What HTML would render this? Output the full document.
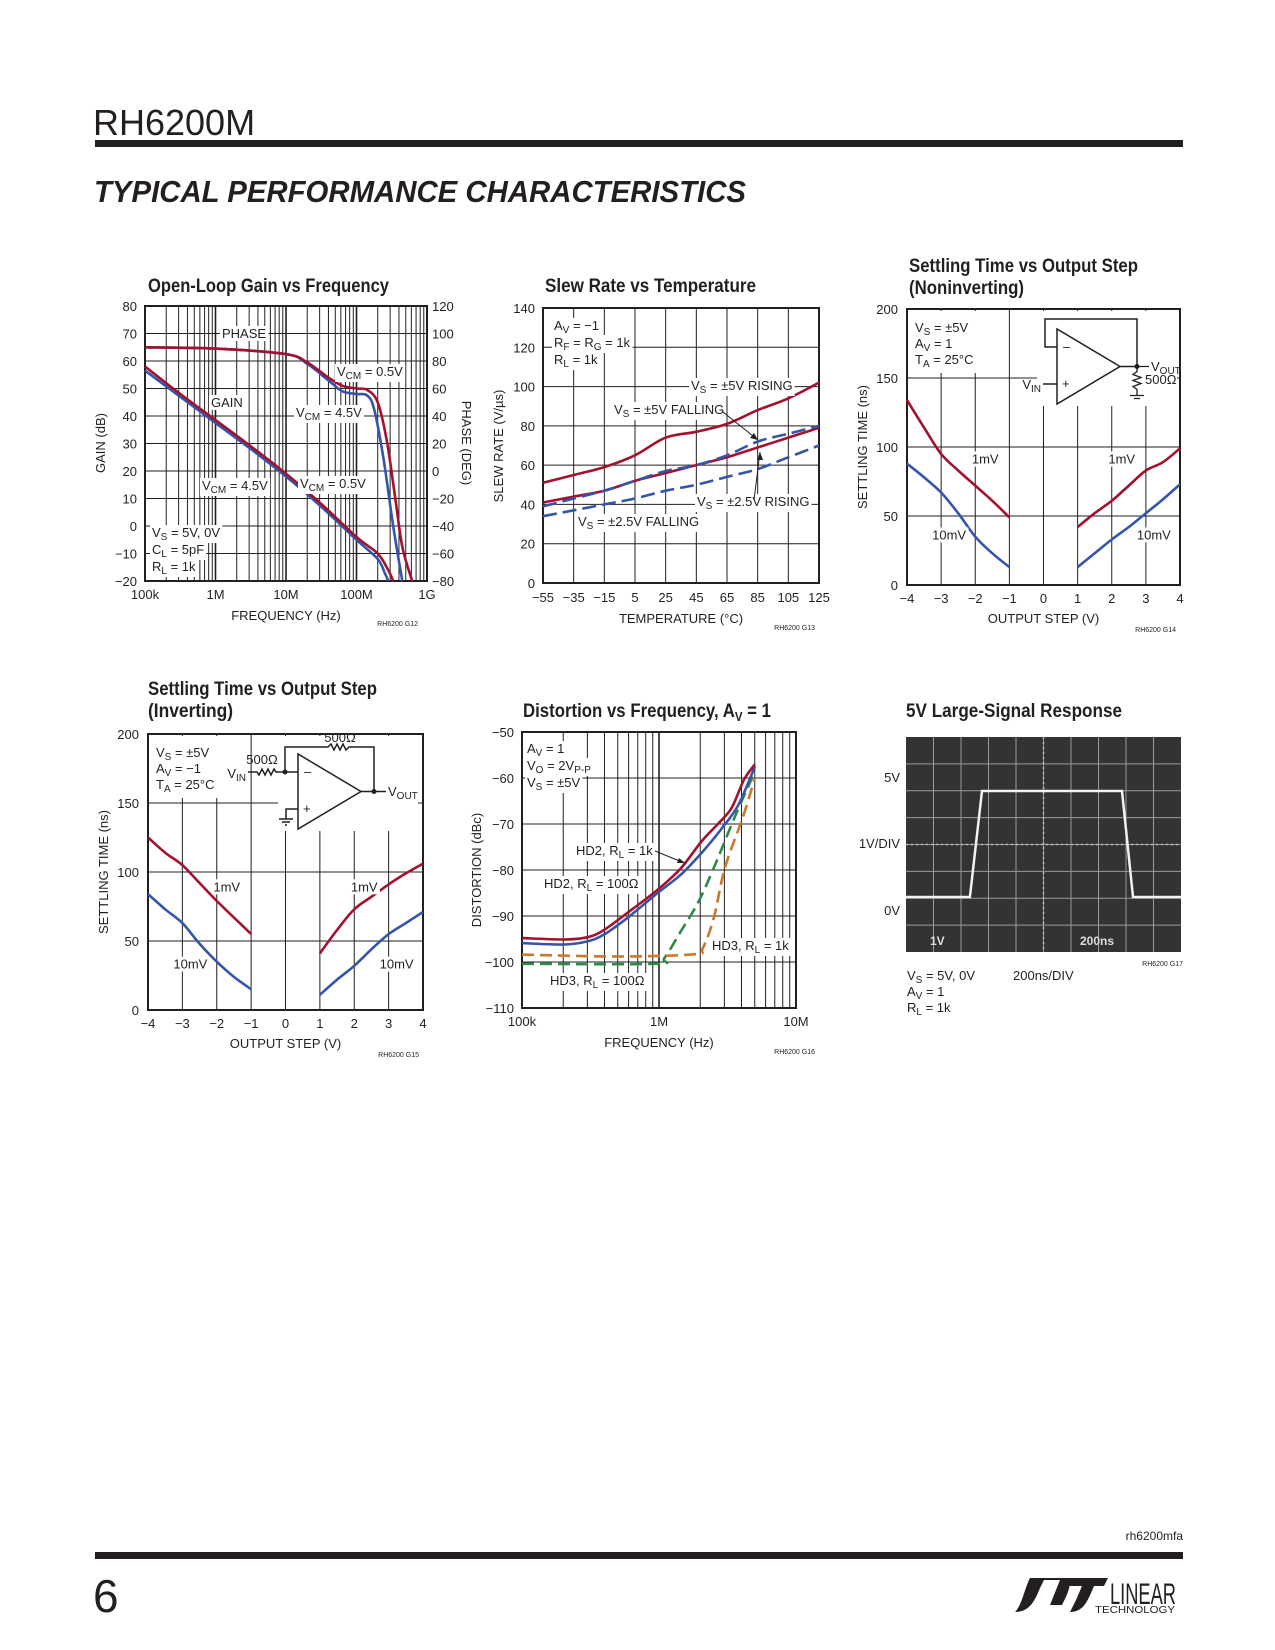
<!DOCTYPE html>
<html><head><meta charset="utf-8">
<style>
html,body{margin:0;padding:0;background:#fff}
svg{display:block}
text{font-family:"Liberation Sans Narrow","Liberation Sans",sans-serif;fill:#231f20}
.t{font-size:13px}
.ti{font-size:19px;font-weight:bold}
.g{font-size:7px}
</style></head>
<body>
<svg id="page" width="1275" height="1650" viewBox="0 0 1275 1650" xmlns="http://www.w3.org/2000/svg">
<text x="93" y="135" style="font-family:'Liberation Sans',sans-serif;font-size:36px;font-weight:300" fill="#231f20">RH6200M</text>
<rect x="95" y="140" width="1088" height="7" fill="#231f20"/>
<text x="94" y="202" textLength="652" lengthAdjust="spacingAndGlyphs" style="font-family:'Liberation Sans',sans-serif;font-size:31px;font-weight:bold;font-style:italic">TYPICAL PERFORMANCE CHARACTERISTICS</text>
<g id="charts"></g>
<rect x="95" y="1552" width="1088" height="7" fill="#231f20"/>
<text x="1183" y="1540" text-anchor="end" style="font-family:'Liberation Sans',sans-serif;font-size:12px">rh6200mfa</text>
<text x="93" y="1612" style="font-family:'Liberation Sans',sans-serif;font-size:46px;font-weight:300">6</text>
<g>
<path d="M1015 1612 C1030 1612 1035 1600 1040 1588 L1044 1580 L1060 1580 L1050 1605 L1062 1605 C1070 1590 1072 1580 1068 1578 L1030 1578 C1024 1590 1022 1605 1015 1612Z" fill="#231f20"/>
<path d="M1066 1578 L1108 1578 L1104 1586 L1094 1586 C1088 1600 1084 1612 1070 1612 L1076 1600 L1082 1586 L1070 1586Z" fill="#231f20"/>
<text x="1110" y="1604" textLength="66" lengthAdjust="spacingAndGlyphs" style="font-family:'Liberation Sans Narrow','Liberation Sans',sans-serif;font-size:30px">LINEAR</text>
<text x="1095" y="1613" textLength="80" lengthAdjust="spacingAndGlyphs" style="font-family:'Liberation Sans',sans-serif;font-size:10px">TECHNOLOGY</text>
</g>
</svg>
<script>
// ---------- DATA ----------
// Chart 1: open-loop gain / phase (x = log10 Hz)
const olgGainRedF = [5, 5.5, 6, 6.5, 7, 7.5, 8, 8.3, 8.45, 8.52];
const olgGainRed = [58, 48, 38.5, 29, 19, 8, -4, -10, -16, -20];
const olgGainBlueF = [5, 5.5, 6, 6.5, 7, 7.5, 8, 8.3, 8.4, 8.45];
const olgGainBlue = [56.5, 47, 37.5, 28, 18, 7, -5, -12, -17, -20];
const olgPhaseRedF = [5, 6, 7, 7.3, 7.6, 7.8, 8, 8.15, 8.3, 8.43, 8.55, 8.65, 8.79];
const olgPhaseRed = [90, 89, 85, 79, 68, 62, 60, 59, 50, 22, -20, -55, -80];
const olgPhaseBlueF = [5, 6, 7, 7.3, 7.6, 7.8, 8, 8.15, 8.25, 8.38, 8.52, 8.65];
const olgPhaseBlue = [90, 89, 85, 78, 66, 58, 56, 55, 45, 10, -40, -80];
const olgGainTicks = [80, 70, 60, 50, 40, 30, 20, 10, 0, -10, -20];
const olgPhaseTicks = [120, 100, 80, 60, 40, 20, 0, -20, -40, -60, -80];
const olgFreqTicks = ["100k", "1M", "10M", "100M", "1G"];
// Chart 2: slew rate vs temperature
const srTemps = [-55, -35, -15, 5, 25, 45, 65, 85, 105, 125];
const sr5Rising = [51, 55, 59, 65, 74, 77, 81, 88, 94, 102];
const sr25Rising = [41, 44, 47, 52, 56, 60, 64, 69, 74, 79];
const sr5Falling = [39, 43, 47, 52, 57, 60, 65, 72, 76, 80];
const sr25Falling = [34, 37, 40, 43, 47, 50, 54, 58, 64, 70];
const srYTicks = [0, 20, 40, 60, 80, 100, 120, 140];
const srXTicks = [-55, -35, -15, 5, 25, 45, 65, 85, 105, 125];
// Chart 3: settling noninverting
const stepNeg = [-4, -3.5, -3, -2.5, -2, -1.5, -1];
const stepPos = [1, 1.5, 2, 2.5, 3, 3.5, 4];
const niRed1mVNeg = [134, 114, 95, 83, 72, 61, 49];
const niBlue10mVNeg = [88, 78, 67, 52, 35, 23, 13];
const niRed1mVPos = [42, 52, 61, 72, 83, 89, 99];
const niBlue10mVPos = [13, 23, 33, 42, 52, 62, 73];
// Chart 4: settling inverting
const invRed1mVNeg = [125, 114, 105, 92, 79, 67, 55];
const invBlue10mVNeg = [84, 73, 63, 48, 35, 24, 15];
const invRed1mVPos = [41, 58, 73, 82, 91, 99, 106];
const invBlue10mVPos = [11, 22, 32, 44, 55, 63, 71];
const stYTicks = [0, 50, 100, 150, 200];
const stXTicks = [-4, -3, -2, -1, 0, 1, 2, 3, 4];
// Chart 5: distortion (x = log10 Hz)
const hd2_1kF = [5, 5.31, 5.48, 5.6, 5.77, 5.99, 6.16, 6.31, 6.43, 6.53, 6.62, 6.70];
const hd2_1k = [-94.8, -95.1, -94.6, -93, -89.3, -84.3, -79.6, -73.8, -70, -66.5, -60.4, -57];
const hd2_100F = [5, 5.31, 5.48, 5.6, 5.77, 5.99, 6.16, 6.31, 6.46, 6.58, 6.70];
const hd2_100 = [-95.9, -96.2, -95.5, -94, -90.4, -85, -81, -76.3, -70.9, -65.8, -57.5];
const hd3_1kF = [5, 5.72, 6.26, 6.32, 6.40, 6.48, 6.61, 6.70];
const hd3_1k = [-98.4, -98.8, -98.3, -97, -90.4, -79.6, -68.7, -60];
const hd3_100F = [5, 5.97, 6.04, 6.16, 6.29, 6.41, 6.56, 6.70];
const hd3_100 = [-100.4, -100.4, -99.1, -93.3, -86.8, -78.8, -68, -58.6];
const distYTicks = [-50, -60, -70, -80, -90, -100, -110];
const distXTicks = ["100k", "1M", "10M"];
// Chart 6: scope trace (ns, V)
const scopeT = [0, 465, 553, 1571, 1651, 2000];
const scopeV = [0, 0, 5, 5, 0, 0];

// ---------- DRAWING ----------
const NS = "http://www.w3.org/2000/svg";
const root = document.getElementById('charts');
function el(tag, attrs, parent) {
  const e = document.createElementNS(NS, tag);
  for (const k in attrs) e.setAttribute(k, attrs[k]);
  (parent || root).appendChild(e);
  return e;
}
const RED = "#a3112f", BLUE = "#3455a8", ORANGE = "#c9782d", GREEN = "#2e8b46", INK = "#231f20";
function lin(d0, d1, p0, p1) { return v => p0 + (v - d0) / (d1 - d0) * (p1 - p0); }
function txt(g, x, y, s, cls, anchor, bg) {
  const t = el('text', {x: x, y: y, class: cls || 't', 'text-anchor': anchor || 'start'}, g);
  t.innerHTML = s;
  if (bg) {
    const b = t.getBBox();
    const r = document.createElementNS(NS, 'rect');
    r.setAttribute('x', b.x - 2); r.setAttribute('y', b.y); r.setAttribute('width', b.width + 4); r.setAttribute('height', b.height);
    r.setAttribute('fill', '#fff');
    g.insertBefore(r, t);
  }
  return t;
}
function title(g, x, y, s, len) {
  const t = txt(g, x, y, s, 'ti');
  t.setAttribute('textLength', len);
  t.setAttribute('lengthAdjust', 'spacingAndGlyphs');
  return t;
}
function sub(s) { return '<tspan font-size="10" dy="3">' + s + '</tspan><tspan dy="-3"> </tspan>'; }
function smoothPath(xs, ys, X, Y) {
  const p = xs.map((v, i) => [X(v), Y(ys[i])]);
  let d = 'M' + p[0][0].toFixed(1) + ' ' + p[0][1].toFixed(1);
  for (let i = 0; i < p.length - 1; i++) {
    const p0 = p[Math.max(0, i - 1)], p1 = p[i], p2 = p[i + 1], p3 = p[Math.min(p.length - 1, i + 2)];
    const c1 = [p1[0] + (p2[0] - p0[0]) / 6, p1[1] + (p2[1] - p0[1]) / 6];
    const c2 = [p2[0] - (p3[0] - p1[0]) / 6, p2[1] - (p3[1] - p1[1]) / 6];
    d += 'C' + c1[0].toFixed(1) + ' ' + c1[1].toFixed(1) + ' ' + c2[0].toFixed(1) + ' ' + c2[1].toFixed(1) + ' ' + p2[0].toFixed(1) + ' ' + p2[1].toFixed(1);
  }
  return d;
}
function series(g, xs, ys, X, Y, color, name, dash) {
  const a = {d: smoothPath(xs, ys, X, Y), fill: 'none', stroke: color, 'stroke-width': 2.6, 'stroke-linejoin': 'round'};
  if (dash) a['stroke-dasharray'] = dash;
  const p = el('path', a, g);
  
  
  return p;
}
function grid(g, x0, y0, x1, y1, vx, hy, w) {
  vx.forEach(x => el('line', {x1: x, y1: y0, x2: x, y2: y1, stroke: INK, 'stroke-width': w || 1}, g));
  hy.forEach(y => el('line', {x1: x0, y1: y, x2: x1, y2: y, stroke: INK, 'stroke-width': w || 1}, g));
}
function box(g, x0, y0, x1, y1) { el('rect', {x: x0, y: y0, width: x1 - x0, height: y1 - y0, fill: 'none', stroke: INK, 'stroke-width': 2}, g); }
function logLines(lo, hi) { const r = []; for (let d = lo; d < hi; d++) for (let m = 1; m <= 9; m++) r.push(d + Math.log10(m)); r.push(hi); return r; }
function group(name) { const g = el('g', {});   return g; }
function rot(g, x, y, s) { const t = el('text', {x: x, y: y, class: 't', 'text-anchor': 'middle', transform: 'rotate(-90 ' + x + ' ' + y + ')'}, g); t.innerHTML = s; return t; }

// ===== Chart 1 =====
(function () {
  const g = group('open-loop-gain-chart');
  const x0 = 145, x1 = 427, y0 = 306, y1 = 581;
  const X = lin(5, 9, x0, x1), Y = lin(80, -20, y0, y1), YP = lin(120, -80, y0, y1);
  grid(g, x0, y0, x1, y1, logLines(5, 9).map(X), olgGainTicks.map(Y));
  [6, 7, 8].forEach(d => el('line', {x1: X(d), y1: y0, x2: X(d), y2: y1, stroke: INK, 'stroke-width': 1.6}, g));
  box(g, x0, y0, x1, y1);
  title(g, 148, 292, 'Open-Loop Gain vs Frequency', 241);
  olgGainTicks.forEach(v => txt(g, 137, Y(v) + 5, String(v).replace('-', '−'), 't', 'end'));
  olgPhaseTicks.forEach(v => txt(g, 432, YP(v) + 5, String(v).replace('-', '−'), 't', 'start'));
  olgFreqTicks.forEach((s, i) => txt(g, X(5 + i * 1), 599, s, 't', 'middle'));
  txt(g, 286, 620, 'FREQUENCY (Hz)', 't', 'middle');
  rot(g, 105, 443, 'GAIN (dB)');
  const t = el('text', {x: 462, y: 443, class: 't', 'text-anchor': 'middle', transform: 'rotate(90 462 443)'}, g); t.textContent = 'PHASE (DEG)';
  txt(g, 418, 626, 'RH6200 G12', 'g', 'end');
  series(g, olgPhaseBlueF, olgPhaseBlue, X, YP, BLUE, 'phase-vcm-4.5v');
  series(g, olgPhaseRedF, olgPhaseRed, X, YP, RED, 'phase-vcm-0.5v');
  series(g, olgGainBlueF, olgGainBlue, X, Y, BLUE, 'gain-vcm-4.5v');
  series(g, olgGainRedF, olgGainRed, X, Y, RED, 'gain-vcm-0.5v');
  txt(g, 222, 338, 'PHASE', 't', 'start', true);
  txt(g, 337, 376, 'V' + sub('CM') + '= 0.5V', 't', 'start', true);
  txt(g, 211, 407, 'GAIN', 't', 'start', true);
  txt(g, 296, 417, 'V' + sub('CM') + '= 4.5V', 't', 'start', true);
  txt(g, 202, 490, 'V' + sub('CM') + '= 4.5V', 't', 'start', true);
  txt(g, 300, 488, 'V' + sub('CM') + '= 0.5V', 't', 'start', true);
  txt(g, 152, 537, 'V' + sub('S') + '= 5V, 0V', 't', 'start', true);
  txt(g, 152, 554, 'C' + sub('L') + '= 5pF', 't', 'start', true);
  txt(g, 152, 571, 'R' + sub('L') + '= 1k', 't', 'start', true);
})();

// ===== Chart 2 =====
(function () {
  const g = group('slew-rate-chart');
  const x0 = 543, x1 = 819, y0 = 308, y1 = 583;
  const X = lin(-55, 125, x0, x1), Y = lin(0, 140, y1, y0);
  grid(g, x0, y0, x1, y1, srXTicks.map(X), srYTicks.map(Y));
  box(g, x0, y0, x1, y1);
  title(g, 545, 292, 'Slew Rate vs Temperature', 211);
  srYTicks.forEach(v => txt(g, 535, Y(v) + 5, String(v), 't', 'end'));
  srXTicks.forEach(v => txt(g, X(v), 602, String(v).replace('-', '−'), 't', 'middle'));
  txt(g, 681, 623, 'TEMPERATURE (°C)', 't', 'middle');
  rot(g, 503, 446, 'SLEW RATE (V/µs)');
  txt(g, 815, 630, 'RH6200 G13', 'g', 'end');
  series(g, srTemps, sr5Rising, X, Y, RED, 'vs-5v-rising');
  series(g, srTemps, sr25Rising, X, Y, RED, 'vs-2.5v-rising');
  series(g, srTemps, sr5Falling, X, Y, BLUE, 'vs-5v-falling', '14 6');
  series(g, srTemps, sr25Falling, X, Y, BLUE, 'vs-2.5v-falling', '14 6');
  txt(g, 554, 330, 'A' + sub('V') + '= −1', 't', 'start', true);
  txt(g, 554, 347, 'R' + sub('F') + '= R' + sub('G') + '= 1k', 't', 'start', true);
  txt(g, 554, 364, 'R' + sub('L') + '= 1k', 't', 'start', true);
  txt(g, 691, 390, 'V' + sub('S') + '= ±5V RISING', 't', 'start', true);
  txt(g, 614, 414, 'V' + sub('S') + '= ±5V FALLING', 't', 'start', true);
  txt(g, 697, 506, 'V' + sub('S') + '= ±2.5V RISING', 't', 'start', true);
  txt(g, 578, 526, 'V' + sub('S') + '= ±2.5V FALLING', 't', 'start', true);
  el('path', {d: 'M723 412 L758 440', stroke: INK, fill: 'none', 'stroke-width': 1}, g);
  el('path', {d: 'M758 440 l-8 -2 l4 -5z', fill: INK}, g);
  el('path', {d: 'M754 500 L760 452', stroke: INK, fill: 'none', 'stroke-width': 1}, g);
  el('path', {d: 'M760 452 l-3 8 l6 0z', fill: INK}, g);
})();

// settling-time chart helper
function settling(name, x0, x1, y0, y1, title1, title2, rn, bn, rp, bp, gcode, inv) {
  const g = group(name);
  const X = lin(-4, 4, x0, x1), Y = lin(0, 200, y1, y0);
  grid(g, x0, y0, x1, y1, stXTicks.map(X), stYTicks.map(Y));
  box(g, x0, y0, x1, y1);
  title(g, title1[0], title1[1], title1[2], title1[3]);
  title(g, title2[0], title2[1], title2[2], title2[3]);
  stYTicks.forEach(v => txt(g, x0 - 9, Y(v) + 5, String(v), 't', 'end'));
  stXTicks.forEach(v => txt(g, X(v), y1 + 18, String(v).replace('-', '−'), 't', 'middle'));
  txt(g, (x0 + x1) / 2, y1 + 38, 'OUTPUT STEP (V)', 't', 'middle');
  rot(g, x0 - 40, (y0 + y1) / 2, 'SETTLING TIME (ns)');
  txt(g, x1 - 4, y1 + 47, gcode, 'g', 'end');
  series(g, stepNeg, rn, X, Y, RED, '1mv-negative-step');
  series(g, stepNeg, bn, X, Y, BLUE, '10mv-negative-step');
  series(g, stepPos, rp, X, Y, RED, '1mv-positive-step');
  series(g, stepPos, bp, X, Y, BLUE, '10mv-positive-step');
  el('rect', {x: x0 + 2, y: y0 + 2, width: 85, height: 62, fill: '#fff'}, g);
  el('rect', {x: x0 + 130, y: y0 + 2, width: 140, height: 95, fill: '#fff'}, g);
  txt(g, x0 + 8, y0 + 23, 'V' + sub('S') + '= ±5V');
  txt(g, x0 + 8, y0 + 39, 'A' + sub('V') + (inv ? '= −1' : '= 1'));
  txt(g, x0 + 8, y0 + 55, 'T' + sub('A') + '= 25°C');
  txt(g, X(-2) + 10, Y(inv ? 86 : 88), '1mV', 't', 'middle', true);
  txt(g, X(-3) + 8, Y(inv ? 30 : 33), '10mV', 't', 'middle', true);
  txt(g, X(2) + 10, Y(inv ? 86 : 88), '1mV', 't', 'middle', true);
  txt(g, X(3) + 8, Y(inv ? 30 : 33), '10mV', 't', 'middle', true);
  const ax = x0 + 150, ay = y0 + 20;
  el('path', {d: `M${ax} ${ay} L${ax} ${ay + 75} L${ax + 63} ${ay + 37.5}Z`, fill: '#fff', stroke: INK, 'stroke-width': 1.5}, g);
  txt(g, ax + 6, ay + 22, '–');
  txt(g, ax + 5, ay + 59, '+');
  if (!inv) {
    el('path', {d: `M${ax} ${ay + 18} L${ax - 12} ${ay + 18} L${ax - 12} ${ay - 10} L${ax + 80} ${ay - 10} L${ax + 80} ${ay + 37.5} L${ax + 63} ${ay + 37.5}`, fill: 'none', stroke: INK, 'stroke-width': 1.5}, g);
    el('path', {d: `M${ax} ${ay + 55} L${ax - 14} ${ay + 55}`, stroke: INK, 'stroke-width': 1.5}, g);
    txt(g, ax - 16, ay + 60, 'V' + sub('IN'), 't', 'end');
    el('path', {d: `M${ax + 80} ${ay + 37.5} L${ax + 92} ${ay + 37.5} M${ax + 80} ${ay + 37.5} l0 5 l-4 3 l8 3 l-8 3 l8 3 l-8 3 l4 3 l0 6 m-7 0 l14 0 m-10 3 l6 0`, fill: 'none', stroke: INK, 'stroke-width': 1.3}, g);
    el('circle', {cx: ax + 80, cy: ay + 37.5, r: 2.5, fill: INK}, g);
    txt(g, ax + 94, ay + 42, 'V' + sub('OUT'), 't').setAttribute('font-size', '11');
    txt(g, ax + 88, ay + 55, '500Ω', 't').setAttribute('font-size', '11');
  } else {
    el('path', {d: `M${ax} ${ay + 18} L${ax - 13} ${ay + 18} L${ax - 13} ${ay - 7} L${ax + 30} ${ay - 7} l3 -3 l3 6 l3 -6 l3 6 l3 -6 l3 6 l3 -3 L${ax + 76} ${ay - 7} L${ax + 76} ${ay + 37.5} L${ax + 63} ${ay + 37.5} M${ax + 76} ${ay + 37.5} l12 0`, fill: 'none', stroke: INK, 'stroke-width': 1.5}, g);
    el('path', {d: `M${ax - 13} ${ay + 18} L${ax - 22} ${ay + 18} l-2 -3 l-3 6 l-3 -6 l-3 6 l-3 -6 l-3 6 l-2 -3 L${ax - 50} ${ay + 18}`, fill: 'none', stroke: INK, 'stroke-width': 1.5}, g);
    el('path', {d: `M${ax} ${ay + 55} L${ax - 12} ${ay + 55} l0 10 m-7 0 l14 0 m-11 3 l8 0 m-5 3 l2 0`, fill: 'none', stroke: INK, 'stroke-width': 1.5}, g);
    el('circle', {cx: ax - 13, cy: ay + 18, r: 2.5, fill: INK}, g);
    el('circle', {cx: ax + 76, cy: ay + 37.5, r: 2.5, fill: INK}, g);
    txt(g, ax - 52, ay + 24, 'V' + sub('IN'), 't', 'end').setAttribute('font-size', '11');
    txt(g, ax - 36, ay + 10, '500Ω', 't', 'middle').setAttribute('font-size', '11');
    txt(g, ax + 42, ay - 12, '500Ω', 't', 'middle').setAttribute('font-size', '11');
    txt(g, ax + 90, ay + 42, 'V' + sub('OUT'), 't').setAttribute('font-size', '11');
  }
}
settling('settling-noninverting-chart', 907, 1180, 309, 585, [909, 272, 'Settling Time vs Output Step', 229], [909, 294, '(Noninverting)', 115], niRed1mVNeg, niBlue10mVNeg, niRed1mVPos, niBlue10mVPos, 'RH6200 G14', false);
settling('settling-inverting-chart', 148, 423, 734, 1010, [148, 695, 'Settling Time vs Output Step', 229], [148, 717, '(Inverting)', 85], invRed1mVNeg, invBlue10mVNeg, invRed1mVPos, invBlue10mVPos, 'RH6200 G15', true);

// ===== Chart 5 =====
(function () {
  const g = group('distortion-chart');
  const x0 = 522, x1 = 796, y0 = 732, y1 = 1008;
  const X = lin(5, 7, x0, x1), Y = lin(-50, -110, y0, y1);
  grid(g, x0, y0, x1, y1, logLines(5, 7).map(X), distYTicks.map(Y));
  el('line', {x1: X(6), y1: y0, x2: X(6), y2: y1, stroke: INK, 'stroke-width': 1.6}, g);
  box(g, x0, y0, x1, y1);
  title(g, 523, 717, 'Distortion vs Frequency, A' + '<tspan font-size="13" dy="4">V</tspan><tspan dy="-4"> = 1</tspan>', 248);
  distYTicks.forEach(v => txt(g, 514, Y(v) + 5, String(v).replace('-', '−'), 't', 'end'));
  distXTicks.forEach((s, i) => txt(g, X(5 + i), 1026, s, 't', 'middle'));
  txt(g, 659, 1047, 'FREQUENCY (Hz)', 't', 'middle');
  rot(g, 481, 870, 'DISTORTION (dBc)');
  txt(g, 815, 1054, 'RH6200 G16', 'g', 'end');
  series(g, hd3_100F, hd3_100, X, Y, GREEN, 'hd3-rl-100', '12 6');
  series(g, hd3_1kF, hd3_1k, X, Y, ORANGE, 'hd3-rl-1k', '12 6');
  series(g, hd2_100F, hd2_100, X, Y, BLUE, 'hd2-rl-100');
  series(g, hd2_1kF, hd2_1k, X, Y, RED, 'hd2-rl-1k');
  txt(g, 527, 753, 'A' + sub('V') + '= 1', 't', 'start', true);
  txt(g, 527, 770, 'V' + sub('O') + '= 2V' + sub('P-P'), 't', 'start', true);
  txt(g, 527, 787, 'V' + sub('S') + '= ±5V', 't', 'start', true);
  txt(g, 576, 855, 'HD2, R' + sub('L') + '= 1k', 't', 'start', true);
  txt(g, 544, 888, 'HD2, R' + sub('L') + '= 100Ω', 't', 'start', true);
  txt(g, 712, 950, 'HD3, R' + sub('L') + '= 1k', 't', 'start', true);
  txt(g, 550, 985, 'HD3, R' + sub('L') + '= 100Ω', 't', 'start', true);
  el('path', {d: 'M655 851 L682 862', stroke: INK, 'stroke-width': 1, fill: 'none'}, g);
  el('path', {d: 'M685 863 l-8 0 l2 -5z', fill: INK}, g);
})();

// ===== Chart 6 (scope) =====
(function () {
  const g = group('large-signal-response');
  const x0 = 906, x1 = 1181, y0 = 737, y1 = 952;
  title(g, 906, 717, '5V Large-Signal Response', 216);
  el('rect', {x: x0, y: y0, width: x1 - x0, height: y1 - y0, fill: '#333333'}, g);
  const cw = (x1 - x0) / 10, rh = (y1 - y0) / 8;
  const vx = [], hy = [];
  for (let i = 1; i < 10; i++) vx.push(x0 + i * cw);
  for (let j = 1; j < 8; j++) hy.push(y0 + j * rh);
  vx.forEach(x => el('line', {x1: x, y1: y0, x2: x, y2: y1, stroke: '#9a9a9a', 'stroke-width': 1}, g));
  hy.forEach(y => el('line', {x1: x0, y1: y, x2: x1, y2: y, stroke: '#9a9a9a', 'stroke-width': 1}, g));
  el('line', {x1: x0 + 5 * cw, y1: y0, x2: x0 + 5 * cw, y2: y1, stroke: '#bbb', 'stroke-width': 1.5, 'stroke-dasharray': '2 3'}, g);
  el('line', {x1: x0, y1: y0 + 4 * rh, x2: x1, y2: y0 + 4 * rh, stroke: '#bbb', 'stroke-width': 1.5, 'stroke-dasharray': '2 3'}, g);
  const X = lin(0, 2000, x0, x0 + 10 * cw), Y = lin(0, 5, 897, 791);
  const p = el('polyline', {points: scopeT.map((t, i) => X(t).toFixed(1) + ',' + Y(scopeV[i]).toFixed(1)).join(' '), fill: 'none', stroke: '#f2f2f2', 'stroke-width': 2.5}, g);
  
  
  const a = txt(g, 930, 945, '1V', 't'); a.setAttribute('style', 'fill:#ddd;font-weight:bold;font-size:12px');
  const b = txt(g, 1080, 945, '200ns', 't'); b.setAttribute('style', 'fill:#ddd;font-weight:bold;font-size:12px');
  txt(g, 900, 782, '5V', 't', 'end');
  txt(g, 900, 848, '1V/DIV', 't', 'end');
  txt(g, 900, 915, '0V', 't', 'end');
  txt(g, 1183, 966, 'RH6200 G17', 'g', 'end');
  txt(g, 907, 980, 'V' + sub('S') + '= 5V,  0V');
  txt(g, 1013, 980, '200ns/DIV');
  txt(g, 907, 996, 'A' + sub('V') + '= 1');
  txt(g, 907, 1012, 'R' + sub('L') + '= 1k');
})();
</script>
</body></html>
